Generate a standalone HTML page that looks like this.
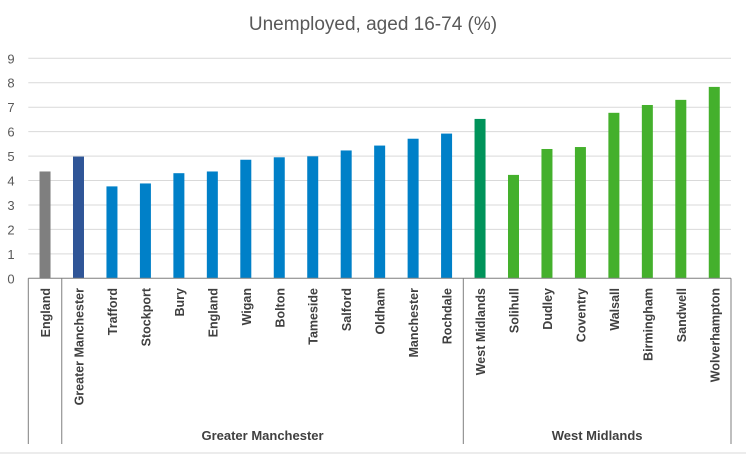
<!DOCTYPE html>
<html><head><meta charset="utf-8"><style>
body{margin:0;background:#fff;}
svg text{font-family:"Liberation Sans",sans-serif;}
</style></head><body>
<svg id="c" width="746" height="455" viewBox="0 0 746 455">
<rect x="0" y="0" width="746" height="455" fill="#fff"/>
<line x1="0" y1="453" x2="746" y2="453" stroke="#d9d9d9" stroke-width="1"/>
<text x="373" y="30" text-anchor="middle" font-size="19" fill="#595959">Unemployed,  aged 16-74 (%)</text>
<g id="grid"></g><g id="bars"></g><g id="axis"></g>
</svg>
<script>
const categories=["England","Greater Manchester","Trafford","Stockport","Bury","England","Wigan","Bolton","Tameside","Salford","Oldham","Manchester","Rochdale","West Midlands","Solihull","Dudley","Coventry","Walsall","Birmingham","Sandwell","Wolverhampton"];
const values=[4.37,4.98,3.76,3.88,4.3,4.37,4.85,4.95,4.99,5.23,5.43,5.71,5.92,6.52,4.23,5.29,5.37,6.77,7.09,7.3,7.83];
const colors=["#7f7f7f","#2f5597","#0080c8","#0080c8","#0080c8","#0080c8","#0080c8","#0080c8","#0080c8","#0080c8","#0080c8","#0080c8","#0080c8","#00935a","#44b02c","#44b02c","#44b02c","#44b02c","#44b02c","#44b02c","#44b02c"];
const yTicks=[0,1,2,3,4,5,6,7,8,9];
const groups=[{name:"Greater Manchester",start:1,end:12},{name:"West Midlands",start:13,end:20}];
const NS="http://www.w3.org/2000/svg";
const L=28.3,R=731,T=58.3,B=278.3,yMax=9;
const step=(R-L)/categories.length;
const y=v=>B-(v/yMax)*(B-T);
const x=i=>L+step*(i+0.5);
function mk(t,a,p){const e=document.createElementNS(NS,t);for(const k in a)e.setAttribute(k,a[k]);p.appendChild(e);return e;}
const grid=document.getElementById('grid'),bars=document.getElementById('bars'),axis=document.getElementById('axis');
yTicks.forEach(t=>{
 if(t>0){const g=mk('line',{x1:L,x2:R,y1:y(t),y2:y(t),stroke:'#d9d9d9','stroke-width':1},grid);
 
 }
 const tx=mk('text',{x:11,y:y(t)+5,'text-anchor':'middle','font-size':13,fill:'#595959'},grid);
 tx.textContent=t;
 
 
});
values.forEach((v,i)=>{
 const r=mk('rect',{x:x(i)-5.5,y:y(v),width:11,height:B-y(v),fill:colors[i]},bars);
 
 
 const t=mk('text',{transform:`translate(${x(i)+5},288) rotate(-90)`,'text-anchor':'end','font-size':12.5,'font-weight':'bold',fill:'#404040'},axis);
 t.textContent=categories[i];
 
 
});
const ax=mk('line',{x1:L,x2:R,y1:B,y2:B,stroke:'#7f7f7f','stroke-width':1},axis);


const seps=[0,1,13,21];
seps.forEach(s=>{
 const xx=L+step*s;
 const l=mk('line',{x1:xx,x2:xx,y1:B,y2:444,stroke:'#7f7f7f','stroke-width':1},axis);
 
 
});
groups.forEach(g=>{
 const cx=(L+step*g.start+L+step*(g.end+1))/2;
 const t=mk('text',{x:cx,y:440,'text-anchor':'middle','font-size':13,'font-weight':'bold',fill:'#404040'},axis);
 t.textContent=g.name;
 
 
});
</script>
</body></html>
